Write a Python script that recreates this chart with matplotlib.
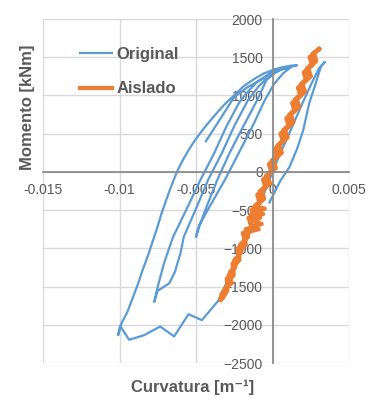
import matplotlib
matplotlib.use("Agg")
import matplotlib.pyplot as plt

plt.rcParams["font.family"] = ["Liberation Sans", "DejaVu Sans"]

# curvatura [1/m] and momento [kNm]
orig_x = [-0.00436, -0.00338, -0.00251, -0.00163, -0.00076, -0.0002, 0.0003,
          -0.0004, -0.001, -0.0019, -0.0028, -0.0036, -0.0043, -0.0048, -0.005,
          -0.0048, -0.0041, -0.0031, -0.0022, -0.0013, -0.0005, 0.0001, 0.0007, 0.0012,
          0.0, -0.001, -0.0017, -0.0022, -0.003, -0.0038, -0.0047, -0.0056, -0.0065, -0.0071,
          -0.0075, -0.00773,
          -0.00752, -0.00675, -0.00638, -0.006, -0.0058, -0.005, -0.0042, -0.0033, -0.0025,
          -0.0016, -0.0009, -0.0002, 0.0006, 0.0016,
          0.0012, 0.00055, 0.00011, -0.0006, -0.0012, -0.0019, -0.00251, -0.0031, -0.0036, -0.0042,
          -0.00468, -0.00515, -0.00556, -0.0059, -0.0062, -0.00645, -0.0067, -0.00697, -0.00725,
          -0.00752, -0.00785, -0.00817, -0.0085, -0.00882, -0.00918, -0.00948, -0.00987, -0.01009,
          -0.00996,
          -0.00937, -0.00839, -0.00734, -0.00643, -0.00549, -0.00462, -0.00355,
          -0.00251, -0.00142, -0.00054, 0.00033, 0.0012, 0.00196, 0.00261, 0.00305, 0.00342,
          0.00316, 0.00283, 0.0024, 0.002, 0.0016, 0.0011, 0.0005, -0.0002]
orig_y = [400, 704, 978, 1109, 1204, 1270, 1320,
          1200, 940, 600, 250, -100, -450, -720, -850,
          -700, -450, -100, 250, 600, 940, 1150, 1290, 1370,
          1310, 1180, 1030, 900, 600, 250, -100, -480, -850, -1200,
          -1500, -1700,
          -1557, -1457, -1309, -1050, -850, -480, -100, 250, 600,
          940, 1120, 1260, 1340, 1395,
          1390, 1365, 1340, 1285, 1215, 1120, 1000, 890, 780, 640,
          520, 390, 260, 140, 20, -100, -230, -380, -540,
          -720, -920, -1110, -1290, -1480, -1670, -1830, -1978, -2135,
          -2013,
          -2196, -2135, -2022, -2152, -1861, -1939, -1687,
          -1230, -709, -274, 161, 552, 900, 1183, 1357, 1439,
          1378, 1161, 900, 540, 300, 60, -120, -400]

aisl_x = [0.00305, 0.00242, 0.00259, 0.00204, 0.00221, 0.00166, 0.00183, 0.00128, 0.00145,
          0.0009, 0.00107, 0.00052, 0.00069, 0.00014, 0.00031, -0.00024, -0.00007, -0.00062,
          -0.00045, -0.001, -0.00083, -0.00138, -0.0006, -0.00157, -0.0014, -0.0009, -0.00195,
          -0.00178, -0.00227, -0.00219, -0.00261, -0.00257, -0.00299, -0.00295, -0.00334, -0.0034,
          -0.00325, -0.00295, -0.00296, -0.00254, -0.00258, -0.00216, -0.0022, -0.00174, -0.00185,
          -0.0013, -0.00147, -0.0008, -0.00092, -0.00109, -0.00054, -0.00071, -0.00016, -0.00033,
          0.00022, 0.00006, 0.00061, 0.00044, 0.00099, 0.00082, 0.00137, 0.0012, 0.00175, 0.00158,
          0.00213, 0.00196, 0.00251, 0.00234, 0.00286, 0.00272, 0.00305,
          0.00265, 0.00276, 0.00224, 0.00241, 0.00186, 0.00203, 0.00148, 0.00165, 0.0011, 0.00127,
          0.00072, 0.00089, 0.00034, 0.00051, -0.00004, 0.00012, -0.00043, -0.00026, -0.00081,
          -0.00064, -0.00119, -0.0005, -0.00138, -0.00121, -0.0007, -0.00176, -0.00159, -0.00211,
          -0.00203, -0.00249, -0.00243, -0.00275, -0.0029, -0.00265, -0.0031, -0.00335]
aisl_y = [1610, 1500, 1400, 1300, 1200, 1100, 1000, 900, 800,
          700, 600, 500, 400, 300, 200, 100, 0, -100,
          -200, -300, -400, -500, -550, -600, -700, -750, -800,
          -900, -1000, -1100, -1200, -1300, -1400, -1500, -1600, -1680,
          -1650, -1550, -1450, -1350, -1250, -1150, -1050, -950, -850,
          -750, -650, -600, -550, -450, -350, -250, -150, -50,
          50, 150, 250, 350, 450, 550, 650, 750, 850, 950,
          1050, 1150, 1250, 1350, 1450, 1550, 1610,
          1550, 1450, 1350, 1250, 1150, 1050, 950, 850, 750, 650,
          550, 450, 350, 250, 150, 50, -50, -150, -250,
          -350, -450, -480, -550, -650, -680, -750, -850, -950,
          -1050, -1150, -1250, -1300, -1380, -1450, -1520, -1640]

x_ticks = [-0.015, -0.01, -0.005, 0, 0.005]
x_labels = ["-0.015", "-0.01", "-0.005", "0", "0.005"]
y_ticks = [-2500, -2000, -1500, -1000, -500, 0, 500, 1000, 1500, 2000]

blue = "#5b9bd5"
orange = "#ed7d31"
txt = "#595959"

fig = plt.figure(figsize=(3.78, 4.07), dpi=100)
ax = fig.add_axes([0.1138, 0.108, 0.8095, 0.8453])

ax.plot(orig_x, orig_y, color=blue, lw=1.6, label="Original")
ax.plot(aisl_x, aisl_y, color=orange, lw=3.0, label="Aislado")

ax.set_xlim(-0.015, 0.005)
ax.set_ylim(-2500, 2000)
ax.set_xticks(x_ticks)
ax.set_xticklabels(x_labels)
ax.set_yticks(y_ticks)
ax.grid(True, color="#d9d9d9", lw=1)
ax.set_axisbelow(True)

ax.spines["left"].set_position(("data", 0))
ax.spines["bottom"].set_position(("data", 0))
ax.spines["top"].set_visible(False)
ax.spines["right"].set_visible(False)
for s in ("left", "bottom"):
    ax.spines[s].set_color("#8c8c8c")
    ax.spines[s].set_linewidth(1.3)
ax.tick_params(axis="x", length=0, pad=8, labelsize=10, labelcolor=txt)
ax.tick_params(axis="y", length=0, pad=7, labelsize=10, labelcolor=txt)

fig.text(0.072, 0.737, "Momento [kNm]", rotation=90, ha="center", va="center",
         fontsize=12, fontweight="bold", color=txt)
fig.text(0.51, 0.049, "Curvatura [m⁻¹]", ha="center", va="center",
         fontsize=12, fontweight="bold", color=txt)

leg = ax.legend(loc="upper left", bbox_to_anchor=(0.121, 0.918), frameon=False,
                borderpad=0, borderaxespad=0, handlelength=1.9, handletextpad=0.3,
                labelspacing=1.15, prop={"size": 12, "weight": "bold"})
for t in leg.get_texts():
    t.set_color(txt)

fig.savefig("out.png", dpi=100)
